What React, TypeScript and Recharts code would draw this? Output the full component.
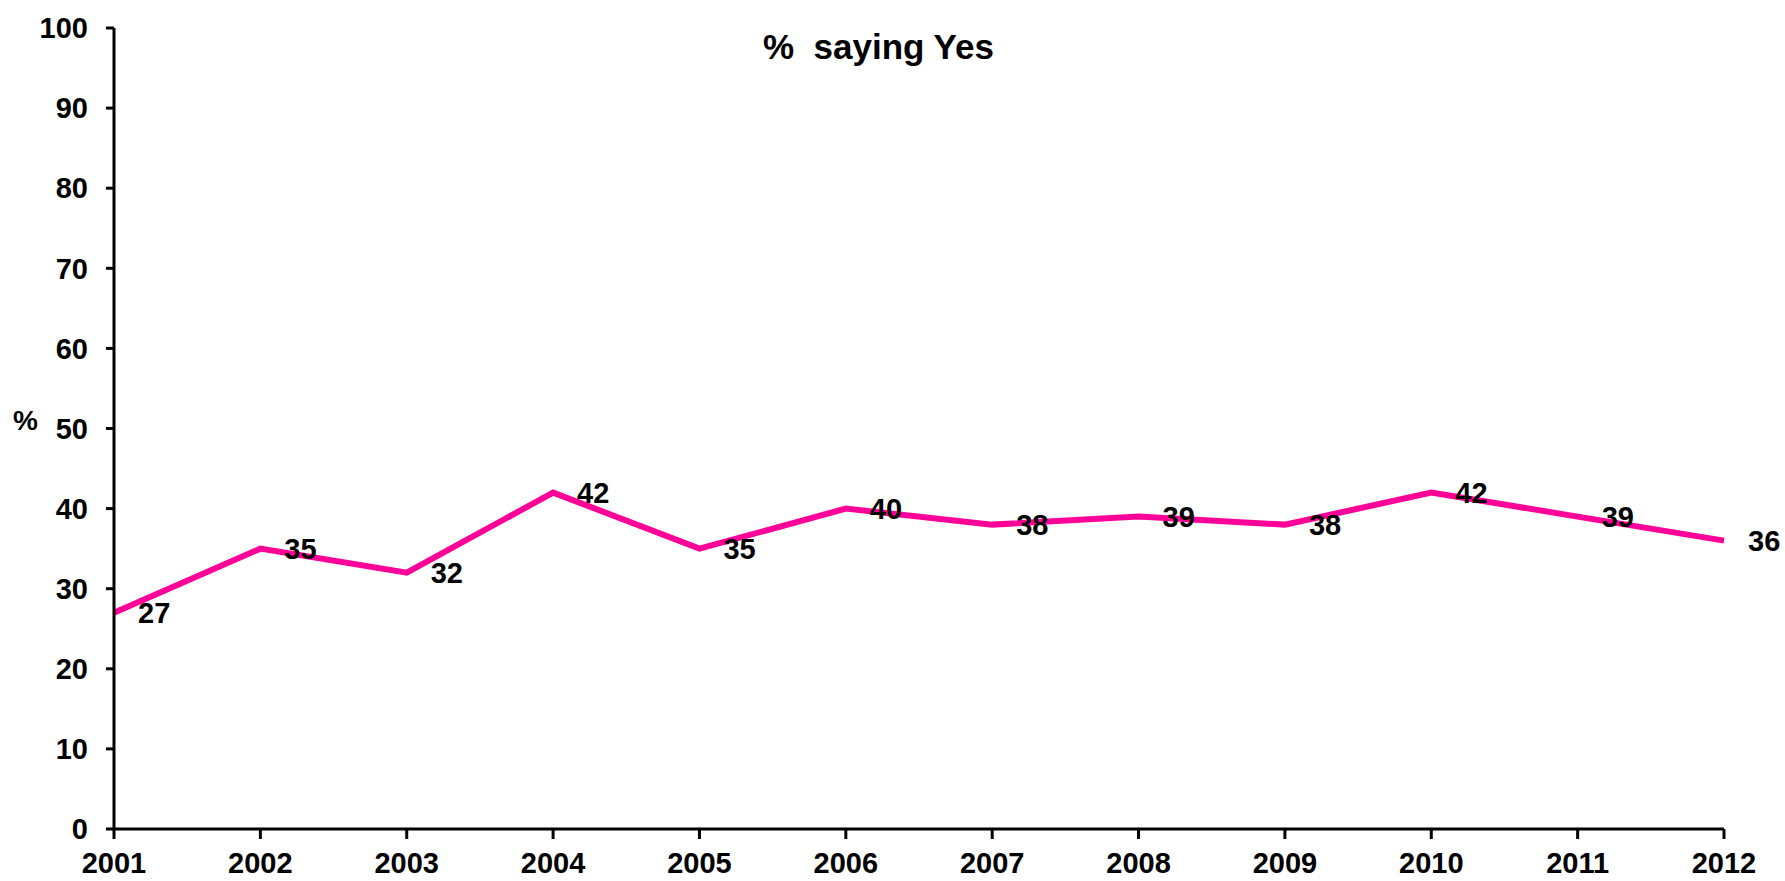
import { LineChart, Line, XAxis, YAxis, LabelList } from "recharts";

const years = ["2001", "2002", "2003", "2004", "2005", "2006", "2007", "2008", "2009", "2010", "2011", "2012"];
const yesValues = [27, 35, 32, 42, 35, 40, 38, 39, 38, 42, 39, 36];
const yTicks = [0, 10, 20, 30, 40, 50, 60, 70, 80, 90, 100];

const data = years.map((year, i) => ({ year, yes: yesValues[i] }));

const font = '"Liberation Sans", Arial, Helvetica, sans-serif';
const tickStyle = { fontSize: 29, fontWeight: 700, fill: "#000", fontFamily: font };

function PointLabel(props: any) {
  const { x, y, value } = props;
  return (
    <text x={x + 24} y={y} dy="0.36em" textAnchor="start" fontSize={29} fontWeight={700} fill="#000" fontFamily={font}>
      {value}
    </text>
  );
}

export default function App() {
  return (
    <div style={{ position: "absolute", left: 0, top: 0, width: 1785, height: 881, background: "#fff" }}>
      <LineChart width={1785} height={881} data={data} margin={{ top: 28, right: 61, bottom: 0, left: 14 }}>
        <XAxis
          dataKey="year"
          height={52}
          tick={tickStyle}
          tickSize={10}
          tickMargin={13}
          axisLine={{ stroke: "#000", strokeWidth: 3 }}
          tickLine={{ stroke: "#000", strokeWidth: 3 }}
          interval={0}
        />
        <YAxis
          width={100}
          domain={[0, 100]}
          ticks={yTicks}
          tick={tickStyle}
          tickSize={8}
          tickMargin={18}
          axisLine={{ stroke: "#000", strokeWidth: 3 }}
          tickLine={{ stroke: "#000", strokeWidth: 3 }}
          interval={0}
        />
        <Line type="linear" dataKey="yes" stroke="#FF0099" strokeWidth={6} dot={false} isAnimationActive={false}>
          <LabelList dataKey="yes" content={<PointLabel />} />
        </Line>
      </LineChart>
      <div
        style={{
          position: "absolute",
          left: 763,
          top: 26,
          fontFamily: font,
          fontWeight: 700,
          fontSize: 35,
          lineHeight: "42px",
          whiteSpace: "pre",
        }}
      >
        %  saying Yes
      </div>
      <div
        style={{
          position: "absolute",
          left: 13,
          top: 404,
          fontFamily: font,
          fontWeight: 700,
          fontSize: 28,
          lineHeight: "34px",
        }}
      >
        %
      </div>
    </div>
  );
}
